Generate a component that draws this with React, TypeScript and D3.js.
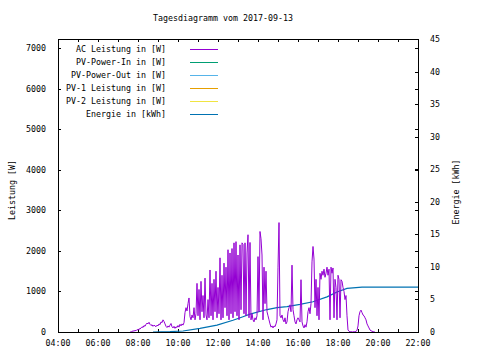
import * as d3 from "d3";

const TITLE = "Tagesdiagramm vom 2017-09-13";

// AC power, one sample every 3 minutes starting 07:36
const acStart = "07:36";
const acStepMin = 3;
const acPower = [
  0, 0, 10,
  30, 20, 40, 30, 60,
  50, 80, 70, 100, 130,
  110, 160, 140, 190, 220,
  200, 240, 190, 160, 180,
  140, 170, 150, 130, 170,
  150, 200, 180, 250, 230,
  300, 260, 200, 140, 110,
  150, 120, 170, 210, 130,
  100, 140, 90, 130, 110,
  160, 120, 190, 150, 200,
  170, 230, 480, 600, 520,
  700, 840, 380, 300, 420,
  350, 600, 300, 450, 1200,
  400, 1050, 300, 1250, 500,
  900, 350, 1330, 420, 300,
  800, 350, 1530, 400, 1200,
  300, 1300, 500, 1500, 350,
  1100, 450, 1830, 300, 1400,
  350, 1700, 600, 1600, 400,
  2030, 300, 1950, 450, 2060,
  350, 2200, 500, 2230, 400,
  1900, 300, 2150, 550, 2200,
  2160, 450, 2200, 400, 1950,
  2400, 350, 2210, 300, 450,
  300, 250, 350, 300, 400,
  1860, 500, 2480, 2300, 1900,
  300, 1600, 700, 1500, 500,
  400, 300, 200, 120, 150,
  100, 150, 130, 200, 300,
  1600, 2700, 400, 350, 420,
  300, 250, 350, 200, 250,
  500, 600, 670, 500, 1650,
  550, 400, 250, 200, 300,
  350, 300, 250, 1290, 250,
  150, 100, 180, 120, 250,
  500, 600, 450, 700, 1730,
  2110, 1800, 600, 1300, 400,
  1100, 300, 1450, 1300, 1500,
  1400, 1550, 1350, 1450, 1600,
  1400, 1550, 300, 1600, 1450,
  1580, 350, 1300, 1100, 300,
  1400, 1300, 350, 1290, 1250,
  1100, 1000, 800, 900, 400,
  50, 20, 0, 10, 0,
  0, 10, 0, 20, 40,
  150, 400, 500, 540, 480,
  420, 400, 350, 300, 200,
  150, 100, 50, 30, 20,
  10, 0, 0,
];

const energyTimes = [
  "08:45", "09:36", "10:15", "11:06", "11:57", "12:45", "13:15", "13:36", "14:27",
  "14:57", "15:27", "16:06", "16:45", "17:27", "17:57", "18:27", "19:12", "22:00",
];
const energyKWh = [
  0, 0.05, 0.15, 0.55, 1.05, 1.8, 2.35, 2.75, 3.45,
  3.75, 3.9, 4.25, 4.65, 5.4, 6.15, 6.7, 6.88, 6.88,
];

const legendLabels = [
  "AC Leistung in [W]",
  "PV-Power-In in [W]",
  "PV-Power-Out in [W]",
  "PV-1 Leistung in [W]",
  "PV-2 Leistung in [W]",
  "Energie in [kWh]",
];
const legendColors = ["#9400d3", "#009e73", "#56b4e9", "#e69f00", "#f0e442", "#0072b2"];

const xTickLabels = ["04:00", "06:00", "08:00", "10:00", "12:00", "14:00", "16:00", "18:00", "20:00", "22:00"];
const yTicks = [0, 1000, 2000, 3000, 4000, 5000, 6000, 7000];
const y2Ticks = [0, 5, 10, 15, 20, 25, 30, 35, 40, 45];

const W = 480;
const H = 360;
const L = 58;
const R = 418;
const T = 39;
const B = 332;
const FONT = "'DejaVu Sans Mono', monospace";
const FS = 8.3;

const toMin = (s: string) => {
  const [h, m] = s.split(":").map(Number);
  return h * 60 + m;
};

export default function App() {
  const x = d3.scaleLinear().domain([240, 1320]).range([L, R]);
  const y = d3.scaleLinear().domain([0, 7230]).range([B, T]);
  const y2 = d3.scaleLinear().domain([0, 45]).range([B, T]);

  const t0 = toMin(acStart);
  const acLine = d3
    .line<number>()
    .x((_, i) => x(t0 + i * acStepMin))
    .y((v) => y(v))(acPower);

  const enLine = d3
    .line<number>()
    .x((_, i) => x(toMin(energyTimes[i])))
    .y((v) => y2(v))(energyKWh);

  const hourTicks = d3.range(240, 1321, 60);
  const tl = 3;

  return (
    <svg
      width={W}
      height={H}
      style={{ position: "absolute", left: 0, top: 0, background: "#fff" }}
      fontFamily={FONT}
      fontSize={FS}
    >
      <text x={223} y={21} textAnchor="middle" fill="#000">
        {TITLE}
      </text>

      {/* ticks */}
      <g stroke="#000" shapeRendering="crispEdges">
        {hourTicks.map((m) => (
          <g key={m}>
            <line x1={x(m) + 0.5} x2={x(m) + 0.5} y1={B} y2={B - tl} />
            <line x1={x(m) + 0.5} x2={x(m) + 0.5} y1={T} y2={T + tl} />
          </g>
        ))}
        {yTicks.map((v) => (
          <g key={v}>
            <line x1={L} x2={L + tl} y1={y(v) + 0.5} y2={y(v) + 0.5} />
            <line x1={R} x2={R - tl} y1={y(v) + 0.5} y2={y(v) + 0.5} />
          </g>
        ))}
        {y2Ticks.map((v) => (
          <line key={v} x1={R} x2={R - tl} y1={y2(v) + 0.5} y2={y2(v) + 0.5} />
        ))}
      </g>

      {/* data */}
      <path d={enLine ?? ""} fill="none" stroke="#0072b2" strokeWidth={1.2} />
      <path d={acLine ?? ""} fill="none" stroke="#9400d3" strokeWidth={1} />

      {/* border */}
      <rect
        x={L + 0.5}
        y={T + 0.5}
        width={R - L}
        height={B - T}
        fill="none"
        stroke="#000"
        shapeRendering="crispEdges"
      />

      {/* tick labels */}
      {yTicks.map((v) => (
        <text key={v} x={46} y={y(v) + 3} textAnchor="end">
          {v}
        </text>
      ))}
      {y2Ticks.map((v) => (
        <text key={v} x={430} y={y2(v) + 3}>
          {v}
        </text>
      ))}
      {xTickLabels.map((s) => (
        <text key={s} x={x(toMin(s))} y={346} textAnchor="middle">
          {s}
        </text>
      ))}

      <text transform="translate(15,190) rotate(-90)" textAnchor="middle">
        Leistung [W]
      </text>
      <text transform="translate(459,192) rotate(-90)" textAnchor="middle">
        Energie [kWh]
      </text>

      {/* legend */}
      {legendLabels.map((lab, i) => {
        const yy = 49 + i * 13;
        return (
          <g key={lab}>
            <text x={166} y={yy + 3} textAnchor="end">
              {lab}
            </text>
            <line
              x1={190}
              x2={218}
              y1={yy + 0.5}
              y2={yy + 0.5}
              stroke={legendColors[i]}
              shapeRendering="crispEdges"
            />
          </g>
        );
      })}
    </svg>
  );
}
